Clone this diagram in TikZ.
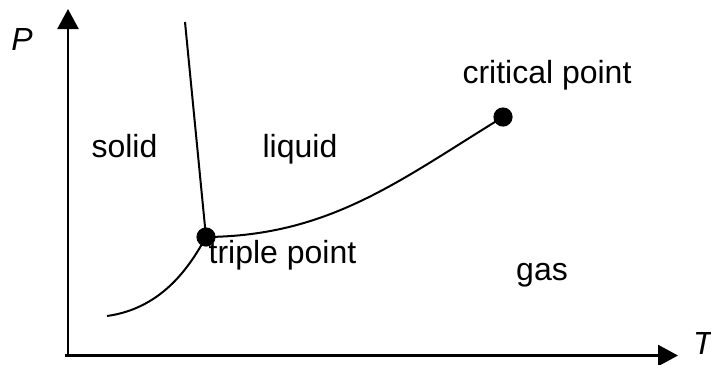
\documentclass[tikz,border=0pt]{standalone}
\usepackage{fontspec}
\setmainfont{Liberation Sans}
\usetikzlibrary{arrows.meta,positioning}

\begin{document}
\begin{tikzpicture}[x=0.5pt,y=-0.5pt,>={Triangle[length=10pt,width=10.5pt]},
  every node/.style={font=\fontsize{16pt}{19pt}\selectfont},
  curve/.style={line width=1pt},
  axis/.style={line width=1.2pt,->},
  dot/.style={circle,fill=black,inner sep=0pt,minimum size=9.6pt}]
\useasboundingbox (0,0) rectangle (711,364);
% axes
\coordinate (xs) at (65,355.5);
\coordinate (xe) at (678,355.5);
\coordinate (ys) at (68,357);
\coordinate (ye) at (68,9);
\draw[axis] (xs)--(xe);
\draw[axis] (ys)--(ye);
\node[anchor=base,font=\fontsize{16pt}{19pt}\selectfont\itshape] (plab) at (22,50) {P};
\node[anchor=base,font=\fontsize{16pt}{19pt}\selectfont\itshape] (tlab) at (703,354) {T};
% phase boundaries
\coordinate (tp) at (206,237);
\coordinate (cp) at (503,117);
\coordinate (fusion) at (185,22);
\coordinate (subl) at (107,316);
\draw[curve] (fusion)--(tp);
\draw[curve] (subl) .. controls (165,308) and (192,262) .. (tp);
\draw[curve] (tp) .. controls (330,236) and (400,180) .. (cp);
\node[dot] (tpdot) at (tp) {};
\node[dot] (cpdot) at (cp) {};
% labels
\node[anchor=base] (solid) at (124.5,157) {solid};
\node[anchor=base] (liquid) at (300,157) {liquid};
\node[anchor=base] (gas) at (542,280) {gas};
\node[anchor=base] (tplab) at (282.5,263) {triple point};
\node[anchor=base] (cplab) at (547,83) {critical point};
\end{tikzpicture}
\end{document}
